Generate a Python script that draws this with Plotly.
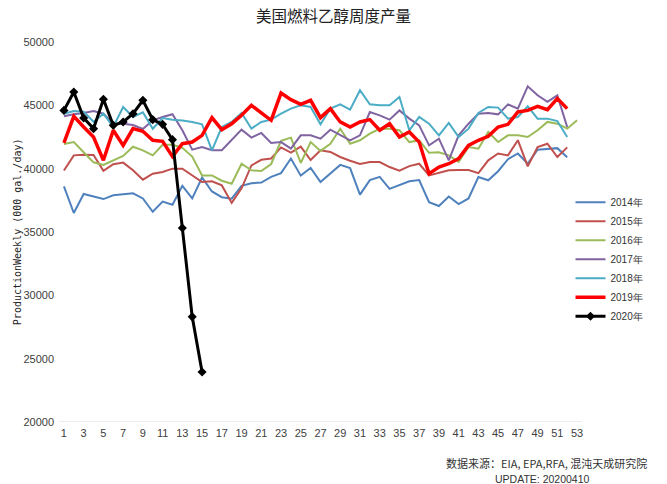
import plotly.graph_objects as go

weeks = list(range(1, 54))

y2014 = [38600, 36500, 38000, 37800, 37600, 37900, 37950, 38050, 37650, 36600,
         37400, 37150, 38650, 37650, 39300, 38200, 37750, 37630, 38650, 38850,
         38900, 39350, 39650, 40800, 39450, 40050, 38950, 39650, 40300, 40050,
         37950, 39100, 39350, 38400, 38700, 39000, 39100, 37350, 37050, 37800,
         37200, 37650, 39340, 39080, 39800, 40750, 41200, 40400, 41500, 41550,
         41620, 40900]
y2015 = [39860, 41050, 41100, 41080, 39830, 40350, 40480, 39870, 39130, 39600,
         39740, 40000, 40000, 39470, 38950, 39000, 38680, 37300, 38450, 40260,
         40700, 40800, 41680, 41270, 41740, 40680, 41450, 41320, 40920, 40630,
         40370, 40530, 40520, 40130, 39840, 40200, 40390, 39470, 39650, 39870,
         39900, 39900, 39650, 40660, 41200, 41050, 42250, 40180, 41710, 41970,
         40920, 41680]
y2016 = [41950, 42100, 41300, 40500, 40300, 40680, 41000, 41730, 41450, 41050,
         41880, 41880, 41650, 40950, 39470, 39470, 39050, 38810, 40390, 39870,
         39810, 40370, 42200, 42450, 40450, 42100, 41400, 41970, 43150, 41970,
         42240, 42760, 43150, 43150, 43030, 42100, 42240, 41250, 41300, 41050,
         40530, 41710, 41580, 42900, 42100, 42630, 42630, 42500, 43030, 43690,
         43550, 43160, 43820]
y2017 = [44130, 44300, 44400, 44550, 44340, 43550, 43550, 43450, 43130, 43820,
         44080, 44300, 43030, 41500, 41710, 41450, 41450, 42240, 43080, 42450,
         42820, 42030, 42100, 41580, 42630, 42630, 42370, 43080, 42630, 42240,
         42630, 44470, 44210, 43870, 44600, 43950, 43420, 41840, 42370, 40660,
         42630, 43550, 44340, 44400, 44290, 45080, 44740, 46500, 45790, 45270,
         45790, 43290]
y2018 = [44330, 44550, 44500, 43700, 44340, 43300, 44870, 44080, 44450, 43150,
         44000, 43870, 43800, 43680, 43500, 41450, 43290, 43690, 44400, 43160,
         43690, 43870, 44340, 44740, 45000, 44870, 43500, 44740, 45080, 44660,
         46190, 45080, 45000, 45000, 45660, 43030, 44080, 43550, 42630, 43610,
         42500, 43160, 44400, 44870, 44820, 43950, 44080, 44920, 43950, 43950,
         43760, 42500]
y2019 = [42030, 44130, 43290, 42500, 40660, 43030, 41840, 43160, 42950, 42240,
         42160, 40970, 41970, 42100, 42630, 44030, 43080, 43550, 44210, 45000,
         44400, 43820, 45970, 45450, 45080, 45400, 44030, 44740, 43690, 43290,
         43690, 43870, 43030, 43550, 42500, 42900, 42100, 39600, 40130, 40390,
         40790, 41840, 42240, 42550, 43290, 43500, 44480, 44600, 44920, 44660,
         45530, 44740]
y2020 = [44600, 46050, 44000, 43160, 45480, 43420, 43690, 44340, 45400, 43870,
         43500, 42290, 35310, 28300, 23950]

series_names = ["2014年", "2015年", "2016年", "2017年", "2018年", "2019年", "2020年"]
series_values = [y2014, y2015, y2016, y2017, y2018, y2019, y2020]
colors = ["#4F81BD", "#C0504D", "#9BBB59", "#8064A2", "#4BACC6", "#FF0000", "#000000"]
widths = [2, 2, 2, 2, 2, 3.5, 3]

y_ticks = [20000, 25000, 30000, 35000, 40000, 45000, 50000]
x_ticks = list(range(1, 54, 2))

fig = go.Figure()
for name, vals, c, w in zip(series_names, series_values, colors, widths):
    is_2020 = name == "2020年"
    fig.add_trace(go.Scatter(
        x=weeks[:len(vals)], y=vals, name=name,
        mode="lines+markers" if is_2020 else "lines",
        line=dict(color=c, width=w),
        marker=dict(symbol="diamond", size=7, color=c) if is_2020 else None,
    ))

tick_font = dict(family="Liberation Sans Narrow, Liberation Sans, Arial", size=11, color="#404040")

fig.update_layout(
    width=667, height=484,
    margin=dict(l=59, r=85, t=42, b=62),
    paper_bgcolor="white", plot_bgcolor="white",
    title=dict(text="美国燃料乙醇周度产量", x=0.5, xanchor="center",
               y=1 - 17 / 484, yanchor="middle", yref="container",
               font=dict(family="Noto Sans CJK SC", size=15.5, color="#222222")),
    xaxis=dict(range=[0.5, 53.5], tickvals=x_ticks, ticktext=[str(t) for t in x_ticks],
               showgrid=False, zeroline=False, showline=False, automargin=False,
               ticks="", tickfont=tick_font, ticklabelstandoff=3),
    yaxis=dict(range=[20000, 50000], tickvals=y_ticks, ticktext=[str(t) for t in y_ticks],
               showgrid=False, zeroline=False, automargin=False,
               showline=False, ticks="", tickfont=tick_font, ticklabelstandoff=4),
    legend=dict(x=0.978, xanchor="left",
                y=(421.6 - 259) / 379.6, yanchor="middle",
                font=dict(family="Liberation Sans", size=10, color="#333333"),
                itemwidth=30, tracegroupgap=0, bgcolor="rgba(0,0,0,0)"),
    showlegend=True,
)

# bottom gridline at 20000
fig.add_shape(type="line", xref="paper", yref="y", x0=0, x1=1, y0=20000, y1=20000,
              line=dict(color="#D9D9D9", width=1), layer="below")

fig.add_annotation(text="ProductionWeekly (000 gal./day)", xref="paper", yref="paper",
                   x=-0.08, y=0.5, xanchor="center", yanchor="middle", textangle=-90,
                   showarrow=False, font=dict(family="DejaVu Sans Mono", size=10, color="#222222"))
fig.add_annotation(text="数据来源：EIA, EPA,RFA, 混沌天成研究院", xref="paper", yref="paper",
                   x=(649 - 59) / 523, y=-(463 - 421.6) / 379.6, xanchor="right", yanchor="middle",
                   showarrow=False, font=dict(family="Noto Sans CJK SC", size=11, color="#333333"))
fig.add_annotation(text="UPDATE: 20200410", xref="paper", yref="paper",
                   x=(542 - 59) / 523, y=-(479 - 421.6) / 379.6, xanchor="center", yanchor="middle",
                   showarrow=False, font=dict(family="Liberation Sans Narrow, Liberation Sans, Arial", size=10.5, color="#333333"))

fig.write_html("out.html")
